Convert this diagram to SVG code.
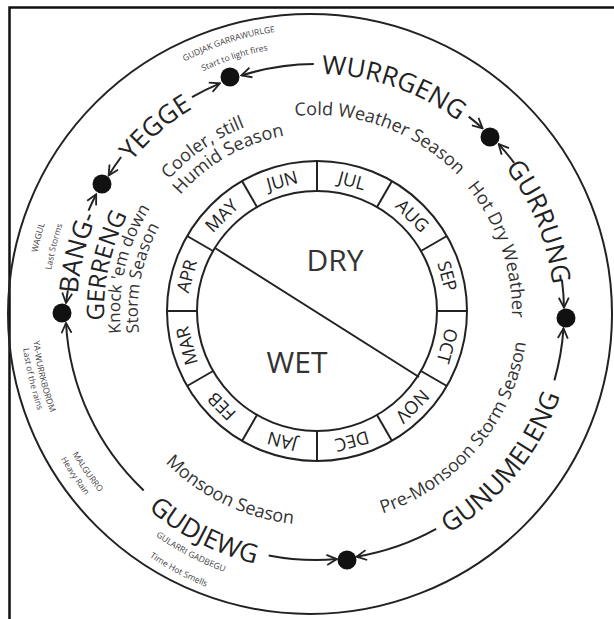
<svg xmlns="http://www.w3.org/2000/svg" width="614" height="619" viewBox="0 0 614 619">
<style>
.bg{fill:#fff}
.ln{fill:none;stroke:#222;stroke-width:2}
.arr{fill:none;stroke:#222;stroke-width:2;marker-end:url(#ah)}
.dot{fill:#111}
.name{font-family:"Open Sans","Noto Sans",sans-serif;font-size:26px;fill:#222;text-anchor:middle}
.name2{font-family:"Open Sans","Noto Sans",sans-serif;font-size:24px;fill:#222;text-anchor:middle}
.desc{font-family:"Open Sans","Noto Sans",sans-serif;font-size:18px;fill:#333;text-anchor:middle}
.desc2{font-family:"Open Sans","Noto Sans",sans-serif;font-size:17px;fill:#333;text-anchor:middle}
.small{font-family:"Open Sans","Noto Sans",sans-serif;font-size:8.5px;fill:#444;text-anchor:middle}
.mon{font-family:"Open Sans","Noto Sans",sans-serif;font-size:18px;fill:#222;text-anchor:middle}
.big{font-family:"Open Sans","Noto Sans",sans-serif;font-size:30px;fill:#333;text-anchor:middle}
</style>
<defs>
<marker id="ah" markerUnits="userSpaceOnUse" viewBox="0 0 12 12" refX="11" refY="6" markerWidth="12" markerHeight="12" orient="auto">
<path d="M1,1 L11,6 L1,11" fill="none" stroke="#222" stroke-width="1.8"/>
</marker>
<path id="pWur" d="M193.4,108 A238,238 0 0 1 538.2,226.7"/>
<path id="pYeg" d="M80.9,274.8 A238,238 0 0 1 311.8,74"/>
<path id="pGur" d="M389.5,85.6 A238,238 0 0 1 526.1,423.7"/>
<path id="pGun" d="M320.5,570 A258,258 0 0 0 569.3,262.8"/>
<path id="pGud" d="M63.6,370.3 A259,259 0 0 0 417.2,550.4"/>
<path id="pBan" d="M122.6,452.5 A239,239 0 0 1 211.2,97.2"/>
<path id="pGer" d="M147.8,441.1 A212,212 0 0 1 218.1,124"/>
<path id="pCold" d="M189.4,161.1 A197,197 0 0 1 510,277.8"/>
<path id="pHot" d="M353.4,119.6 A196,196 0 0 1 463.9,440.6"/>
<path id="pPre" d="M279.2,520.8 A212,212 0 0 0 515.2,239.5"/>
<path id="pMon" d="M109.7,365 A213,213 0 0 0 404,506"/>
<path id="pKno" d="M159.5,430.2 A195,195 0 0 1 227.5,138.3"/>
<path id="pSto" d="M177.7,424.2 A179,179 0 0 1 229.2,155.5"/>
<path id="pCoo" d="M118.9,293 A198,198 0 0 1 368.9,121.2"/>
<path id="pHum" d="M139.9,280.1 A179,179 0 0 1 378,144.1"/>
<path id="pS1" d="M53.6,206 A283,283 0 0 1 466,72"/>
<path id="pS2" d="M69.8,211.3 A266,266 0 0 1 457.9,87"/>
<path id="pS3" d="M82.5,475.5 A285,285 0 0 1 195.6,53.7"/>
<path id="pS4" d="M99.2,469.5 A268,268 0 0 1 198.5,71.1"/>
<path id="pS5" d="M43.6,239 A282,282 0 0 0 291.4,592.9"/>
<path id="pS6" d="M33.1,231.9 A293,293 0 0 0 286.3,604.5"/>
<path id="pS7" d="M46.5,371.7 A277,277 0 0 0 421.6,567"/>
<path id="pS8" d="M26.5,373.5 A296,296 0 0 0 426.9,586.4"/>
<path id="pS9" d="M88.3,142.3 A284,284 0 0 0 188.4,565.7"/>
<path id="pS10" d="M79.5,135.7 A295,295 0 0 0 183.5,575.6"/>
</defs>
<rect class="bg" x="0" y="0" width="614" height="619"/>
<g id="frame">
<path d="M9.5,619 V7.5 H614" fill="none" stroke="#111" stroke-width="2.5"/>
<ellipse cx="310" cy="314" rx="302" ry="300" class="ln"/>
</g>

<g id="calendar">
<circle cx="317" cy="311" r="150" class="ln"/>
<circle cx="317" cy="311" r="120" class="ln"/>
<g transform="translate(317,311)" stroke="#222" stroke-width="2">
<line x1="0" y1="-120" x2="0" y2="-150" transform="rotate(0)"/>
<line x1="0" y1="-120" x2="0" y2="-150" transform="rotate(30)"/>
<line x1="0" y1="-120" x2="0" y2="-150" transform="rotate(60)"/>
<line x1="0" y1="-120" x2="0" y2="-150" transform="rotate(90)"/>
<line x1="0" y1="-120" x2="0" y2="-150" transform="rotate(120)"/>
<line x1="0" y1="-120" x2="0" y2="-150" transform="rotate(150)"/>
<line x1="0" y1="-120" x2="0" y2="-150" transform="rotate(180)"/>
<line x1="0" y1="-120" x2="0" y2="-150" transform="rotate(210)"/>
<line x1="0" y1="-120" x2="0" y2="-150" transform="rotate(240)"/>
<line x1="0" y1="-120" x2="0" y2="-150" transform="rotate(270)"/>
<line x1="0" y1="-120" x2="0" y2="-150" transform="rotate(300)"/>
<line x1="0" y1="-120" x2="0" y2="-150" transform="rotate(330)"/>
</g>
<line x1="215" y1="248" x2="419" y2="377" stroke="#222" stroke-width="2"/>
<g transform="translate(317,311)">
<text class="mon" transform="rotate(15) translate(0,-135)" dy="6.5">JUL</text>
<text class="mon" transform="rotate(45) translate(0,-135)" dy="6.5">AUG</text>
<text class="mon" transform="rotate(75) translate(0,-135)" dy="6.5">SEP</text>
<text class="mon" transform="rotate(105) translate(0,-135)" dy="6.5">OCT</text>
<text class="mon" transform="rotate(135) translate(0,-135)" dy="6.5">NOV</text>
<text class="mon" transform="rotate(165) translate(0,-135)" dy="6.5">DEC</text>
<text class="mon" transform="rotate(195) translate(0,-135)" dy="6.5">JAN</text>
<text class="mon" transform="rotate(225) translate(0,-135)" dy="6.5">FEB</text>
<text class="mon" transform="rotate(255) translate(0,-135)" dy="6.5">MAR</text>
<text class="mon" transform="rotate(285) translate(0,-135)" dy="6.5">APR</text>
<text class="mon" transform="rotate(315) translate(0,-135)" dy="6.5">MAY</text>
<text class="mon" transform="rotate(345) translate(0,-135)" dy="6.5">JUN</text>
</g>
<text class="big" x="335" y="271">DRY</text>
<text class="big" x="297" y="373">WET</text>
</g>

<g id="connectors">
<path class="arr" d="M313.8,64 A249,249 0 0 0 241.4,75.5"/>
<path class="arr" d="M192,97.2 A249,249 0 0 1 219.9,83.4"/>
<path class="arr" d="M468.7,116.6 A249,249 0 0 1 482.6,128.3"/>
<path class="arr" d="M514.1,162.8 A249,249 0 0 0 498.6,144.1"/>
<path class="arr" d="M561.9,279.6 A249,249 0 0 1 564,307.7"/>
<path class="arr" d="M554.4,380.4 A249,249 0 0 0 563.5,328.4"/>
<path class="arr" d="M436.2,528.9 A249,249 0 0 1 356.5,556.7"/>
<path class="arr" d="M268.7,555.4 A249,249 0 0 0 336.8,559.1"/>
<path class="arr" d="M143.7,490.4 A249,249 0 0 1 66,323"/>
<path class="arr" d="M67.9,290.3 A249,249 0 0 0 66,303"/>
<path class="arr" d="M88.5,210.7 A249,249 0 0 1 96.2,194.2"/>
<path class="arr" d="M121.1,157 A249,249 0 0 0 108.6,175.6"/>
</g>

<g id="node-d1"><circle class="dot" cx="230" cy="77" r="9.5"/></g>
<g id="node-d2"><circle class="dot" cx="490" cy="137" r="9.5"/></g>
<g id="node-d3"><circle class="dot" cx="566" cy="318" r="9.5"/></g>
<g id="node-d4"><circle class="dot" cx="347" cy="560" r="9.5"/></g>
<g id="node-d5"><circle class="dot" cx="62" cy="313" r="9.5"/></g>
<g id="node-d6"><circle class="dot" cx="102" cy="184" r="9.5"/></g>

<g id="season-wurrgeng">
<text class="name"><textPath href="#pWur" startOffset="50%">WURRGENG</textPath></text>
<text class="desc"><textPath href="#pCold" startOffset="50%">Cold Weather Season</textPath></text>
</g>
<g id="season-gurrung">
<text class="name"><textPath href="#pGur" startOffset="50%">GURRUNG</textPath></text>
<text class="desc"><textPath href="#pHot" startOffset="50%">Hot Dry Weather</textPath></text>
</g>
<g id="season-gunumeleng">
<text class="name"><textPath href="#pGun" startOffset="50%">GUNUMELENG</textPath></text>
<text class="desc"><textPath href="#pPre" startOffset="50%">Pre-Monsoon Storm Season</textPath></text>
</g>
<g id="season-gudjewg">
<text class="name"><textPath href="#pGud" startOffset="50%">GUDJEWG</textPath></text>
<text class="desc"><textPath href="#pMon" startOffset="50%">Monsoon Season</textPath></text>
<text class="small"><textPath href="#pS7" startOffset="50%">GULARRI GADBEGU</textPath></text>
<text class="small"><textPath href="#pS8" startOffset="50%">Time Hot Smells</textPath></text>
<text class="small"><textPath href="#pS5" startOffset="50%">MALGURRO</textPath></text>
<text class="small"><textPath href="#pS6" startOffset="50%">Heavy Rain</textPath></text>
</g>
<g id="season-banggerreng">
<text class="name"><textPath href="#pBan" startOffset="50%">BANG-</textPath></text>
<text class="name2"><textPath href="#pGer" startOffset="50%">GERRENG</textPath></text>
<text class="desc2"><textPath href="#pKno" startOffset="50%">Knock 'em down</textPath></text>
<text class="desc2"><textPath href="#pSto" startOffset="50%">Storm Season</textPath></text>
<text class="small"><textPath href="#pS3" startOffset="50%">WAGUL</textPath></text>
<text class="small"><textPath href="#pS4" startOffset="50%">Last Storms</textPath></text>
<text class="small"><textPath href="#pS9" startOffset="50%">YA-WURRKBORDM</textPath></text>
<text class="small"><textPath href="#pS10" startOffset="50%">Last of the rains</textPath></text>
</g>
<g id="season-yegge">
<text class="name"><textPath href="#pYeg" startOffset="50%">YEGGE</textPath></text>
<text class="desc"><textPath href="#pCoo" startOffset="50%">Cooler, still</textPath></text>
<text class="desc"><textPath href="#pHum" startOffset="50%">Humid Season</textPath></text>
<text class="small"><textPath href="#pS1" startOffset="50%">GUDJAK GARRAWURLGE</textPath></text>
<text class="small"><textPath href="#pS2" startOffset="50%">Start to light fires</textPath></text>
</g>
</svg>
